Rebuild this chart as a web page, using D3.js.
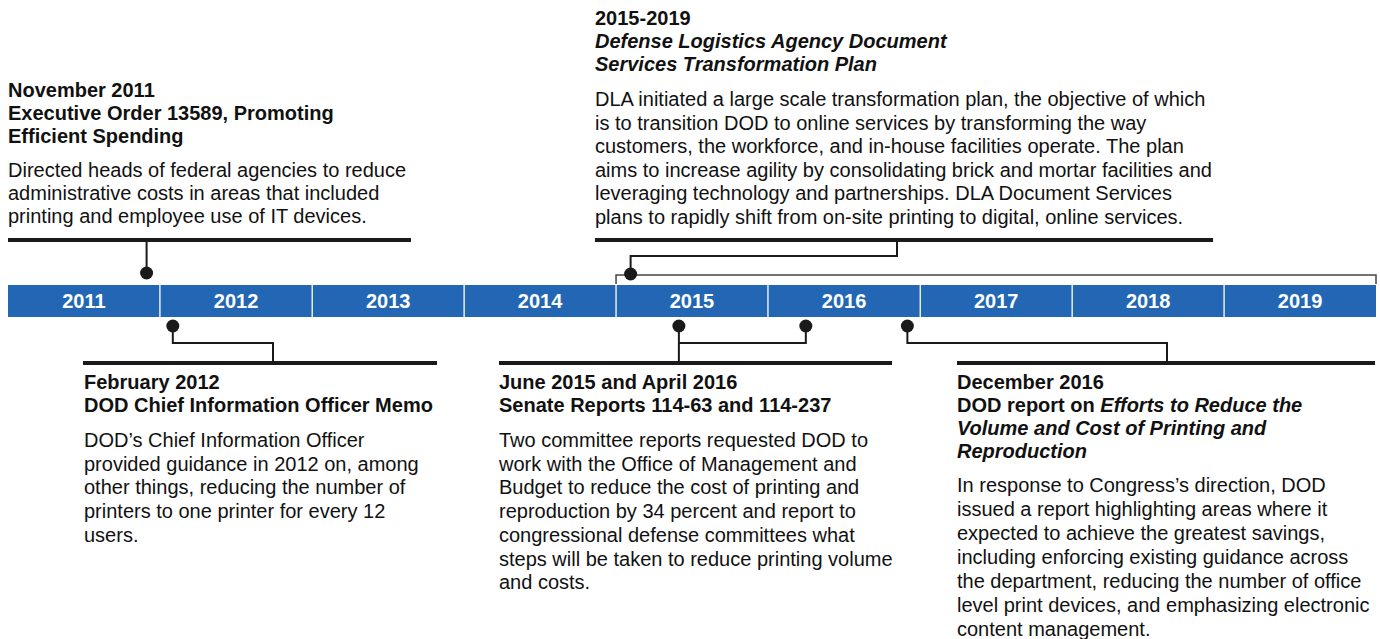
<!DOCTYPE html>
<html>
<head>
<meta charset="utf-8">
<script src="https://cdn.jsdelivr.net/npm/d3@7"></script>
<style>
body { margin: 0; background: #fff; }
text { font-family: "Liberation Sans", Arial, sans-serif; fill: #111; }
</style>
</head>
<body>
<svg id="chart"></svg>
<script>
// timeline years
var years = [2011, 2012, 2013, 2014, 2015, 2016, 2017, 2018, 2019];

// marker dates (month index is 0-based)
var markerNov2011 = [new Date(2011, 10, 30)];
var markerFeb2012 = [new Date(2012, 1, 1)];
var markerSenate = [new Date(2015, 5, 1), new Date(2016, 3, 1)];
var markerDec2016 = [new Date(2016, 11, 1)];
var markerDla = [new Date(2015, 1, 5)];
var dlaSpan = [new Date(2015, 0, 1), new Date(2020, 0, 1)];

// text blocks: title lines are lists of [text, italic]
var nov2011Title = [[["November 2011", false]], [["Executive Order 13589, Promoting", false]], [["Efficient Spending", false]]];
var nov2011Body = ["Directed heads of federal agencies to reduce", "administrative costs in areas that included", "printing and employee use of IT devices."];

var dlaTitle = [[["2015-2019", false]], [["Defense Logistics Agency Document", true]], [["Services Transformation Plan", true]]];
var dlaBody = ["DLA initiated a large scale transformation plan, the objective of which",
  "is to transition DOD to online services by transforming the way",
  "customers, the workforce, and in-house facilities operate. The plan",
  "aims to increase agility by consolidating brick and mortar facilities and",
  "leveraging technology and partnerships. DLA Document Services",
  "plans to rapidly shift from on-site printing to digital, online services."];

var feb2012Title = [[["February 2012", false]], [["DOD Chief Information Officer Memo", false]]];
var feb2012Body = ["DOD\u2019s Chief Information Officer", "provided guidance in 2012 on, among", "other things, reducing the number of", "printers to one printer for every 12", "users."];

var senateTitle = [[["June 2015 and April 2016", false]], [["Senate Reports 114-63 and 114-237", false]]];
var senateBody = ["Two committee reports requested DOD to", "work with the Office of Management and", "Budget to reduce the cost of printing and",
  "reproduction by 34 percent and report to", "congressional defense committees what", "steps will be taken to reduce printing volume", "and costs."];

var dec2016Title = [[["December 2016", false]], [["DOD report on ", false], ["Efforts to Reduce the", true]], [["Volume and Cost of Printing and", true]], [["Reproduction", true]]];
var dec2016Body = ["In response to Congress\u2019s direction, DOD", "issued a report highlighting areas where it", "expected to achieve the greatest savings,",
  "including enforcing existing guidance across", "the department, reducing the number of office", "level print devices, and emphasizing electronic", "content management."];

var width = 1380, height = 639;
var svg = d3.select("#chart").attr("width", width).attr("height", height);

var x = d3.scaleTime()
    .domain([new Date(2011, 0, 1), new Date(2020, 0, 1)])
    .range([8, 1376]);

var barTop = 285, barH = 32;
var ink = "#1a1a1a";

// Draw year bar
svg.selectAll("rect.year")
    .data(years)
    .enter().append("rect")
    .attr("class", "year")
    .attr("x", function(d) { return x(new Date(d, 0, 1)); })
    .attr("y", barTop)
    .attr("width", function(d) { return x(new Date(d + 1, 0, 1)) - x(new Date(d, 0, 1)); })
    .attr("height", barH)
    .attr("fill", "#2367b4");

svg.selectAll("line.sep")
    .data(years.slice(1))
    .enter().append("line")
    .attr("x1", function(d) { return x(new Date(d, 0, 1)); })
    .attr("x2", function(d) { return x(new Date(d, 0, 1)); })
    .attr("y1", barTop)
    .attr("y2", barTop + barH)
    .attr("stroke", "#e4ecf6")
    .attr("stroke-width", 1.5);

svg.selectAll("text.year")
    .data(years)
    .enter().append("text")
    .attr("x", function(d) { return (x(new Date(d, 0, 1)) + x(new Date(d + 1, 0, 1))) / 2; })
    .attr("y", barTop + 23)
    .attr("text-anchor", "middle")
    .style("font-weight", "bold")
    .style("font-size", "20px")
    .style("fill", "#fff")
    .text(function(d) { return d; });

// connector helper
function drawPath(points, w) {
    svg.append("path")
        .attr("d", d3.line()(points))
        .attr("fill", "none")
        .attr("stroke", ink)
        .attr("stroke-width", w);
}

function drawDots(dates, cy) {
    svg.selectAll(null)
        .data(dates)
        .enter().append("circle")
        .attr("cx", function(d) { return x(d); })
        .attr("cy", cy)
        .attr("r", 6.5)
        .attr("fill", ink);
}

// heavy rules under/over text blocks
function drawRule(x1, x2, y) {
    svg.append("line")
        .attr("x1", x1).attr("x2", x2)
        .attr("y1", y).attr("y2", y)
        .attr("stroke", ink)
        .attr("stroke-width", 4);
}

var topRule = 240, botRule = 363, upDot = 273, downDot = 326, elbowTop = 256, elbowBot = 343;

// November 2011
drawRule(8, 411, topRule);
drawPath([[x(markerNov2011[0]), upDot], [x(markerNov2011[0]), topRule]], 2);
drawDots(markerNov2011, upDot);

// DLA 2015-2019 bracket
svg.append("path")
    .attr("d", d3.line()([[x(dlaSpan[0]), 284], [x(dlaSpan[0]), 275], [x(dlaSpan[1]), 275], [x(dlaSpan[1]), 284]]))
    .attr("fill", "none")
    .attr("stroke", "#444")
    .attr("stroke-width", 1.5);
drawRule(595, 1213, topRule);
drawPath([[x(markerDla[0]), upDot], [x(markerDla[0]), elbowTop], [897, elbowTop], [897, topRule]], 2);
drawDots(markerDla, upDot + 1);

// February 2012
drawRule(83, 437, botRule);
drawPath([[x(markerFeb2012[0]), downDot], [x(markerFeb2012[0]), elbowBot], [273, elbowBot], [273, botRule]], 2);
drawDots(markerFeb2012, downDot);

// Senate reports
drawRule(499, 892, botRule);
drawPath([[x(markerSenate[1]), downDot], [x(markerSenate[1]), elbowBot], [x(markerSenate[0]), elbowBot]], 2);
drawPath([[x(markerSenate[0]), downDot], [x(markerSenate[0]), botRule]], 2);
drawDots(markerSenate, downDot);

// December 2016
drawRule(957, 1375, botRule);
drawPath([[x(markerDec2016[0]), downDot], [x(markerDec2016[0]), elbowBot], [1167, elbowBot], [1167, botRule]], 2);
drawDots(markerDec2016, downDot);

// text blocks
function drawBlock(x0, titleY, titleStep, title, bodyY, bodyStep, body) {
    title.forEach(function(line, i) {
        var t = svg.append("text")
            .attr("x", x0)
            .attr("y", titleY + i * titleStep)
            .style("font-weight", "bold")
            .style("font-size", "20px");
        line.forEach(function(seg) {
            t.append("tspan")
                .style("font-style", seg[1] ? "italic" : "normal")
                .text(seg[0]);
        });
    });
    body.forEach(function(line, i) {
        svg.append("text")
            .attr("x", x0)
            .attr("y", bodyY + i * bodyStep)
            .style("font-size", "20px")
            .text(line);
    });
}

drawBlock(8, 97, 23, nov2011Title, 177, 23, nov2011Body);
drawBlock(595, 25, 23, dlaTitle, 106, 23.5, dlaBody);
drawBlock(84, 389, 23, feb2012Title, 447, 23.7, feb2012Body);
drawBlock(499, 389, 23, senateTitle, 447, 23.7, senateBody);
drawBlock(957, 389, 23, dec2016Title, 492, 24, dec2016Body);
</script>
</body>
</html>
